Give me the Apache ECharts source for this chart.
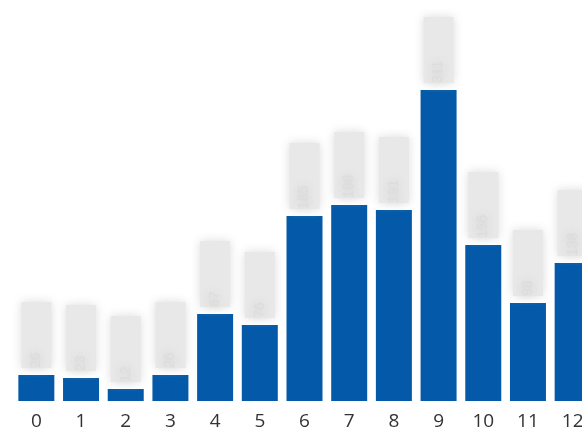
<!DOCTYPE html>
<html>
<head>
<meta charset="utf-8">
<script src="https://cdn.jsdelivr.net/npm/echarts@6/dist/echarts.min.js"></script>
<style>
html,body{margin:0;padding:0;background:#fff;overflow:hidden;}
#c{width:596px;height:439px;}
</style>
</head>
<body>
<div id="c"></div>
<script>
const categories = ['0','1','2','3','4','5','6','7','8','9','10','11','12'];
const values = [26, 23, 12, 26, 87, 76, 185, 196, 191, 311, 156, 98, 138];

const chart = echarts.init(document.getElementById('c'), null, {renderer: 'canvas'});
chart.setOption({
  animation: false,
  backgroundColor: '#ffffff',
  grid: {left: 14, right: 1, top: 1, bottom: 38},
  xAxis: {
    type: 'category',
    data: categories,
    axisLine: {show: false},
    axisTick: {show: false},
    axisLabel: {color: '#333', fontSize: 19, fontFamily: 'Open Sans', margin: 11}
  },
  yAxis: {type: 'value', min: 0, max: 400, show: false},
  series: [{
    type: 'bar',
    data: values,
    barWidth: 36,
    itemStyle: {color: '#045aa8'},
    label: {
      show: true,
      position: 'top',
      distance: 7,
      rotate: 90,
      align: 'left',
      verticalAlign: 'middle',
      width: 66,
      height: 30,
      fontSize: 14,
      color: '#dcdcdc',
      textShadowColor: '#c4c4c4',
      textShadowBlur: 10,
      backgroundColor: '#e8e8e8',
      shadowColor: 'rgba(215,215,215,0.9)',
      shadowBlur: 10
    }
  }]
});
</script>
</body>
</html>
